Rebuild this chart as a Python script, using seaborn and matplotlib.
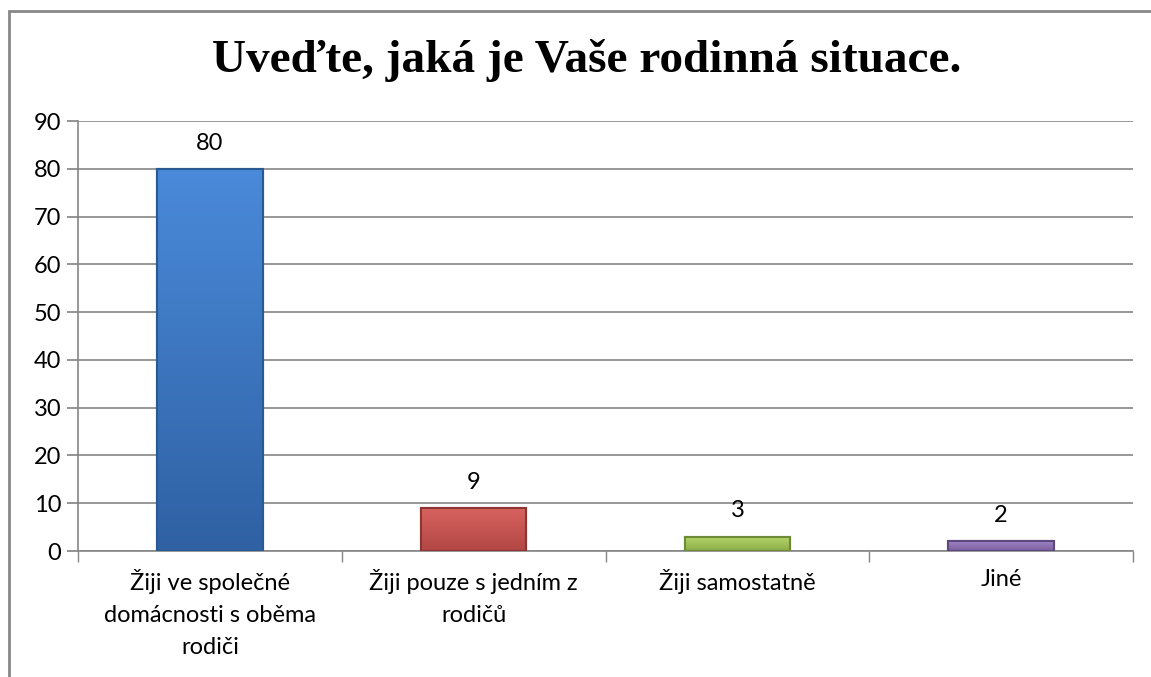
import matplotlib
matplotlib.use("Agg")
import matplotlib.pyplot as plt
import seaborn as sns
import pandas as pd
import numpy as np
from matplotlib.patches import Rectangle
from matplotlib.colors import LinearSegmentedColormap

categories = ["Žiji ve společné\ndomácnosti s oběma\nrodiči", "Žiji pouze s jedním z\nrodičů", "Žiji samostatně", "Jiné"]
values = [80, 9, 3, 2]
colors = ["#3D7BCB", "#CD5653", "#A5C85A", "#8E70B5"]
light = ["#4A8ADA", "#D8625F", "#B4D86A", "#A085C6"]
dark = ["#2F61A3", "#B14744", "#8CAB48", "#7A5E9E"]
edges = ["#2A5A94", "#8C3533", "#6F8A36", "#5E4880"]
yticks = [0, 10, 20, 30, 40, 50, 60, 70, 80, 90]
title = "Uveďte, jaká je Vaše rodinná situace."

sns.set_theme(style="white")
plt.rcParams['font.family'] = ['Lato', 'DejaVu Sans']
plt.rcParams['text.color'] = 'black'
plt.rcParams['xtick.color'] = 'black'
plt.rcParams['ytick.color'] = 'black'

fig = plt.figure(figsize=(11.51, 6.77), dpi=100)
ax = fig.add_axes([78/1151, 1-551/677, (1133-78)/1151, (551-121)/677])

df = pd.DataFrame({"cat": categories, "val": values})
sns.barplot(data=df, x="cat", y="val", hue="cat", palette=colors, width=0.4,
            legend=False, ax=ax, saturation=1)
ax.set_ylim(0, 90)
ax.set_xlim(-0.5, len(categories) - 0.5)

grad = np.linspace(0, 1, 256).reshape(-1, 1)
for p, ec, lc, dc in zip(list(ax.patches), edges, light, dark):
    p.set_edgecolor(ec)
    p.set_linewidth(1.5)
    p.set_zorder(3)
    x0, y0 = p.get_x(), p.get_y()
    w, h = p.get_width(), p.get_height()
    cmap = LinearSegmentedColormap.from_list("g", [dc, lc])
    im = ax.imshow(grad, extent=(x0, x0 + w, y0, y0 + h), origin="lower",
                   cmap=cmap, aspect="auto", zorder=3.5)
    im.set_clip_path(p)
    ax.add_patch(Rectangle((x0, y0), w, h, fill=False, edgecolor=ec,
                           linewidth=1.5, zorder=4))
ax.set_xlim(-0.5, len(categories) - 0.5)
ax.set_ylim(0, 90)

fs = 17
ax.set_yticks(yticks)
ax.set_yticklabels([str(t) for t in yticks], fontsize=fs)
ax.set_xticks(range(len(categories)))
ax.set_xticklabels(categories, fontsize=fs, linespacing=1.65)
ax.tick_params(axis='x', length=0, pad=13)
ax.tick_params(axis='y', length=8, color="#868686", pad=4, left=True)
ax.set_xticks([i - 0.5 for i in range(len(categories) + 1)], minor=True)
ax.tick_params(axis='x', which='minor', length=8, color="#868686", bottom=True, direction='out')
ax.set_xlabel("")
ax.set_ylabel("")
ax.grid(axis='y', color="#868686", linewidth=1.2, zorder=0)
ax.set_axisbelow(True)
for s in ["top", "right"]:
    ax.spines[s].set_visible(False)
for s in ["left", "bottom"]:
    ax.spines[s].set_color("#868686")
    ax.spines[s].set_linewidth(1.2)

for i, v in enumerate(values):
    ax.annotate(str(v), (i, v), xytext=(0, 11), textcoords="offset points",
                ha="center", va="bottom", fontsize=fs, color="black")

fig.text(587/1151, 1-60/677, title, ha="center", va="center", color="black",
         fontsize=34, fontweight="bold", family=["Liberation Serif", "DejaVu Serif"])

fig.patches.append(Rectangle((9/1151, -0.1), 1.2, 1 - 11/677 + 0.1,
                             transform=fig.transFigure, fill=False,
                             edgecolor="#888888", linewidth=2))

fig.savefig("out.png", dpi=100)
